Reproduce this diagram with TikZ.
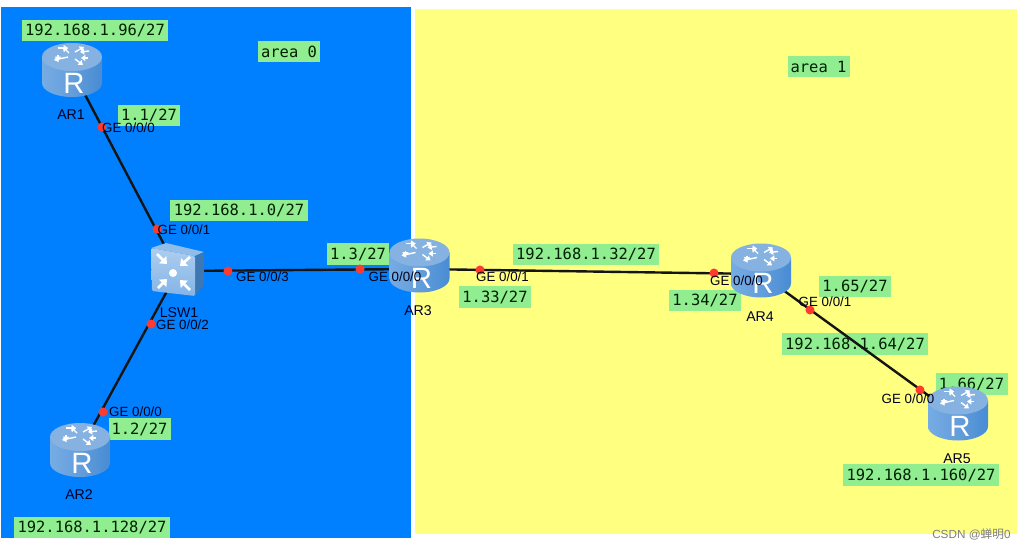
\documentclass[tikz,border=0pt]{standalone}
\usepackage{fontspec}
\setmainfont{Liberation Sans}
\newfontfamily\labelmono{DejaVu Sans Mono}
\newfontfamily\cjkfont{Noto Sans CJK SC}
\usetikzlibrary{arrows.meta}
\definecolor{areablue}{RGB}{0,128,255}
\definecolor{areayellow}{RGB}{255,255,128}
\definecolor{labelgreen}{RGB}{144,238,144}
\definecolor{portred}{RGB}{255,59,48}
\definecolor{devdark}{RGB}{72,140,212}
\definecolor{devlight}{RGB}{118,172,228}
\definecolor{devtop}{RGB}{134,178,226}
\tikzset{
  x=0.75pt,y=-0.75pt,
  link/.style={line width=1.8pt,black!92},
  ipbox/.style={fill=labelgreen,inner sep=0pt,outer sep=0pt,minimum height=16.1pt,
    font=\labelmono\fontsize{11.6}{12}\selectfont,text=black!80!green!60!black},
  port/.style={circle,fill=portred,inner sep=0pt,minimum size=6.8pt},
  gelabel/.style={inner sep=0pt,font=\fontsize{10}{10}\selectfont,text=black!90!blue},
  devname/.style={inner sep=0pt,font=\fontsize{10.6}{11}\selectfont,text=black!85!blue},
  arr/.style={-{Triangle[width=4.4pt,length=3.2pt]},white,line width=1.05pt},
  sarr/.style={-{Triangle[width=7.5pt,length=4.6pt]},white,line width=2pt},
  router/.pic={
    \shade[left color=devlight,right color=devdark,middle color=devdark!85!white]
      (-30,-13) -- (-30,13) arc[start angle=180,end angle=0,x radius=30,y radius=14]
      -- (30,-13) -- cycle;
    \fill[devtop] (0,-13) ellipse[x radius=30,y radius=14];
    \draw[arr] (-3,-17) -- (-9,-23);
    \draw[arr] (-14,-22) -- (-4,-22);
    \draw[arr] (3,-18) -- (12,-23);
    \draw[arr] (17,-19) -- (8,-18);
    \draw[arr] (-4,-13) -- (-18,-10);
    \draw[arr] (-14,-15) -- (-14,-9);
    \draw[arr] (3,-11) -- (11,-5);
    \draw[arr] (16,-12) -- (9,-12);
    \node[inner sep=0pt,text=white,font=\fontsize{22}{22}\selectfont] at (2,13) {R};
  },
  switchbox/.pic={
    \fill[devlight!80!white] (-27,-22) -- (-12,-27) -- (26,-18) -- (17,-14) -- cycle;
    \fill[devdark!85!black] (17,-14) -- (26,-18) -- (26,15) -- (17,26) -- cycle;
    \shade[top color=devlight!60!white,bottom color=devlight!90!white,rounded corners=1pt]
      (-27,-22) -- (17,-14) -- (17,26) -- (-26,21) -- cycle;
    \fill[white] (-5,3) circle[radius=4];
    \draw[sarr] (-21,-16) -- (-11,-6);
    \draw[sarr] (12,-13) -- (2,-4);
    \draw[sarr] (-20,18) -- (-11,9);
    \draw[sarr] (12,20) -- (2,10);
  }
}
\begin{document}
\begin{tikzpicture}
\useasboundingbox (0,0) rectangle (1025,550);
\fill[white] (0,0) rectangle (1025,550);
% areas
\fill[areablue] (1,7) rectangle (411,538);
\fill[areayellow] (415,9) rectangle (1017,534);
% green labels
\node[ipbox,minimum width=109.5pt] (n96) at (95,30.5) {192.168.1.96/27};
\node[ipbox,minimum width=46.5pt] (a0) at (289,51.5) {area 0};
\node[ipbox,minimum width=46.5pt] (i11) at (149,115.5) {1.1/27};
\node[ipbox,minimum width=103.5pt] (n0) at (239,210.5) {192.168.1.0/27};
\node[ipbox,minimum width=46.5pt] (i13) at (358,254) {1.3/27};
\node[ipbox,minimum width=54pt] (i133) at (495,297) {1.33/27};
\node[ipbox,minimum width=109.5pt] (n32) at (586,254.5) {192.168.1.32/27};
\node[ipbox,minimum width=46.5pt] (a1) at (818.5,66.5) {area 1};
\node[ipbox,minimum width=54pt] (i134) at (705,300.5) {1.34/27};
\node[ipbox,minimum width=54pt] (i165) at (855,286.5) {1.65/27};
\node[ipbox,minimum width=109.5pt] (n64) at (855,344) {192.168.1.64/27};
\node[ipbox,minimum width=54pt] (i166) at (971.5,384) {1.66/27};
\node[ipbox,minimum width=117pt] (n160) at (921,475) {192.168.1.160/27};
\node[ipbox,minimum width=46.5pt] (i12) at (139.5,429) {1.2/27};
\node[ipbox,minimum width=117pt] (n128) at (92,527.5) {192.168.1.128/27};
% device anchors
\node[inner sep=0pt] (ar1) at (72,70) {};
\node[inner sep=0pt] (ar2) at (80,450) {};
\node[inner sep=0pt] (ar3) at (419.5,269) {};
\node[inner sep=0pt] (ar4) at (761,274) {};
\node[inner sep=0pt] (ar5) at (958,417) {};
\node[inner sep=0pt] (lsw1) at (178,271) {};
% connectors
\draw[link] (ar1.center) -- (lsw1.center);
\draw[link] (lsw1.center) -- (ar2.center);
\draw[link] (lsw1.center) -- (ar3.center);
\draw[link] (ar3.center) -- (ar4.center);
\draw[link] (ar4.center) -- (ar5.center);
% devices
\pic at (72,70) {router};
\pic at (80,450) {router};
\pic at (419.5,265.5) {router};
\pic at (761,270.5) {router};
\pic at (958,413.5) {router};
\pic at (178,270) {switchbox};
% ports
\foreach \n/\p in {p1/{102,127},p2/{157,229},p3/{228,271},p4/{151,324},p5/{103,412},p6/{360,269},p7/{480,270},p8/{714,273},p9/{810,310},p10/{920,390}}
  \node[port] (\n) at (\p) {};
% port labels
\node[gelabel] (g1) at (128.5,128) {GE 0/0/0};
\node[gelabel] (g2) at (184,230) {GE 0/0/1};
\node[gelabel] (g3) at (262.5,277) {GE 0/0/3};
\node[gelabel] (g4) at (182.5,325) {GE 0/0/2};
\node[gelabel] (g5) at (135.5,412) {GE 0/0/0};
\node[gelabel] (g6) at (395,277) {GE 0/0/0};
\node[gelabel] (g7) at (502.5,277) {GE 0/0/1};
\node[gelabel] (g8) at (736.5,281) {GE 0/0/0};
\node[gelabel] (g9) at (825,302) {GE 0/0/1};
\node[gelabel] (g10) at (908,399) {GE 0/0/0};
% device names
\node[devname] (t1) at (71,115) {AR1};
\node[devname] (t2) at (79,495) {AR2};
\node[devname] (t3) at (418,311) {AR3};
\node[devname] (t4) at (760,317) {AR4};
\node[devname] (t5) at (957,459) {AR5};
\node[devname] (t6) at (179,313) {LSW1};
% watermark
\node[inner sep=0pt,anchor=west,text=black!50,font=\fontsize{8.8}{9}\selectfont] (wm) at (932,534.5) {CSDN @{\cjkfont 蝉明}0};
\end{tikzpicture}
\end{document}
